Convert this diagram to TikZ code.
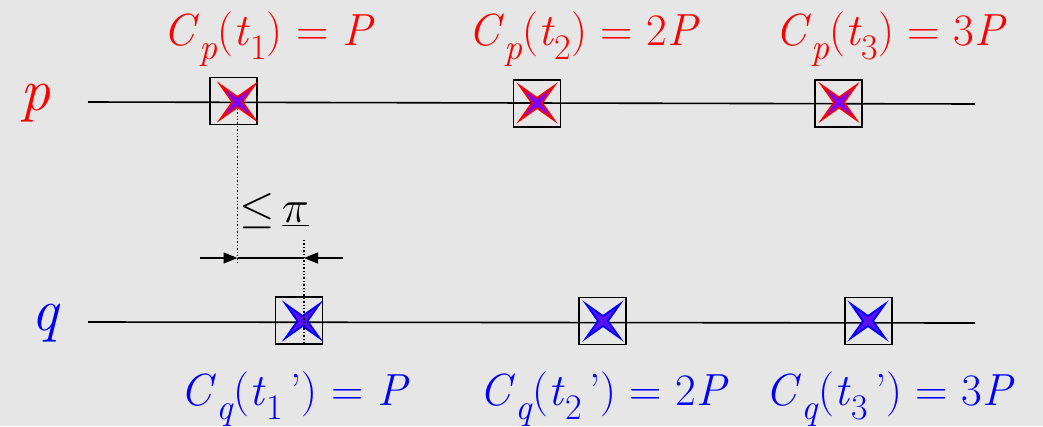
\documentclass[tikz,border=0pt]{standalone}
\usetikzlibrary{arrows.meta,calc}
\definecolor{bg}{HTML}{E6E6E6}
\definecolor{pred}{HTML}{FF0000}
\definecolor{qblue}{HTML}{0000FF}
\definecolor{pfill}{HTML}{7A00FF}
\definecolor{qfill}{HTML}{5A10F0}
\newcommand\subs[1]{\raisebox{-0.33em}{\scalebox{0.8}{#1}}}
\newcommand\mystar[3]{% pos, fill, draw
  \filldraw[fill=#2,draw=#3,line width=1.8pt,line join=miter]
   ($(#1)+(-17,-17)$) -- ($(#1)+(0,-5)$) -- ($(#1)+(17,-17)$) -- ($(#1)+(5,0)$)
   -- ($(#1)+(17,17)$) -- ($(#1)+(0,5)$) -- ($(#1)+(-17,17)$) -- ($(#1)+(-5,0)$) -- cycle;}
\begin{document}
\begin{tikzpicture}[x=1pt,y=-1pt,
  box/.style={draw=black,line width=1.7pt,minimum width=47pt,minimum height=47pt,inner sep=0pt},
  tline/.style={line width=1.6pt},
  dotl/.style={line width=1.4pt,dotted},
  lbl/.style={font=\fontsize{45}{50}\selectfont,inner sep=0pt},
  big/.style={font=\fontsize{60}{64}\selectfont\itshape,inner sep=0pt}]
\fill[bg] (0,0) rectangle (1043,426);
\useasboundingbox (0,0) rectangle (1043,426);
% axis end points
\coordinate (pl) at (88,102);
\coordinate (pr) at (975,104);
\coordinate (ql) at (88,322);
\coordinate (qr) at (975,323);
\draw[tline] (pl) -- (pr);
\draw[tline] (ql) -- (qr);
% labels p, q
\node[big,text=pred,anchor=base] (plab) at (35,110) {p};
\node[big,text=qblue,anchor=base] (qlab) at (45,330) {q};
% boxes
\node[box] (p1) at (233.5,101) {};
\node[box] (p2) at (537,103.5) {};
\node[box] (p3) at (838.5,103.5) {};
\node[box] (q1) at (299,320.5) {};
\node[box] (q2) at (602.5,321) {};
\node[box] (q3) at (868.5,321) {};
% stars
\coordinate (s1) at (237.5,102);
\coordinate (s2) at (537,103);
\coordinate (s3) at (839,102.5);
\coordinate (t1) at (302.5,321);
\coordinate (t2) at (603,321);
\coordinate (t3) at (868,321);
\mystar{s1}{pfill}{pred}
\mystar{s2}{pfill}{pred}
\mystar{s3}{pfill}{pred}
\mystar{t1}{qfill}{qblue}
\mystar{t2}{qfill}{qblue}
\mystar{t3}{qfill}{qblue}
% dotted guides
\coordinate (d1) at (237.5,265);
\coordinate (d2a) at (304,240);
\coordinate (d2b) at (304,344);
\draw[dotl] (s1) -- (d1);
\draw[dotl] (d2a) -- (d2b);
% measure arrows
\coordinate (al) at (200,258);
\coordinate (ar) at (343,258);
\coordinate (am1) at (237.5,258);
\coordinate (am2) at (304,258);
\draw[line width=1.5pt,-{Triangle[length=14pt,width=11pt]}] (al) -- (am1);
\draw[line width=1.5pt,-{Triangle[length=14pt,width=11pt]}] (ar) -- (am2);
\draw[line width=1.5pt] (am1) -- (am2);
\node[inner sep=0pt,anchor=base,font=\fontsize{20}{24}\selectfont] (le) at (274,222) {\scalebox{2.2}{$\leq$\,\underline{$\pi$}}};
% top labels
\node[lbl,text=pred,anchor=base] (c1) at (269,45) {\textit{C}\subs{\textit{p}}(\textit{t}\subs{1}) = \textit{P}};
\node[lbl,text=pred,anchor=base] (c2) at (584,45) {\textit{C}\subs{\textit{p}}(\textit{t}\subs{2}) = 2\textit{P}};
\node[lbl,text=pred,anchor=base] (c3) at (891,45) {\textit{C}\subs{\textit{p}}(\textit{t}\subs{3}) = 3\textit{P}};
% bottom labels
\node[lbl,text=qblue,anchor=base] (e1) at (295,405) {\textit{C}\subs{\textit{q}}(\textit{t}\subs{1}\,'{}) = \textit{P}};
\node[lbl,text=qblue,anchor=base] (e2) at (604,405) {\textit{C}\subs{\textit{q}}(\textit{t}\subs{2}\,'{}) = 2\textit{P}};
\node[lbl,text=qblue,anchor=base] (e3) at (890,405) {\textit{C}\subs{\textit{q}}(\textit{t}\subs{3}\,'{}) = 3\textit{P}};
\end{tikzpicture}
\end{document}
